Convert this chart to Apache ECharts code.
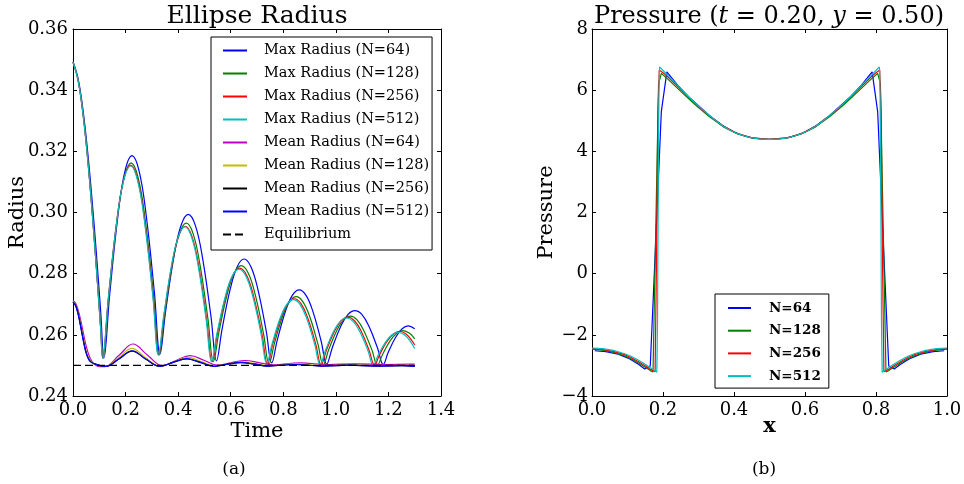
<!DOCTYPE html>
<html>
<head>
<meta charset="utf-8">
<title>Ellipse Radius / Pressure</title>
<script src="https://cdn.jsdelivr.net/npm/echarts@6.0.0/dist/echarts.min.js"></script>
<style>
  html, body { margin: 0; padding: 0; background: #fff; }
  #chart { width: 964px; height: 484px; }
</style>
</head>
<body>
<div id="chart"></div>
<script>
// ---- (a) Ellipse radius, [time, radius] ----
let maxR64 = [[0,0.3493],[0.02,0.3435],[0.04,0.3322],[0.06,0.3162],[0.08,0.2964],[0.095,0.2797],[0.105,0.2680],[0.118,0.2525],
  [0.1393,0.2729],[0.1713,0.2992],[0.1979,0.3136],[0.2245,0.3186],[0.2511,0.3137],[0.2778,0.2996],[0.3097,0.2738],[0.331,0.2537],
  [0.3525,0.2678],[0.3848,0.2860],[0.4116,0.2959],[0.4385,0.2994],[0.4654,0.2958],[0.4923,0.2854],[0.5245,0.2663],[0.546,0.2515],
  [0.567,0.2618],[0.5985,0.2751],[0.6248,0.2823],[0.651,0.2848],[0.6773,0.2822],[0.7035,0.2748],[0.735,0.2613],[0.756,0.2508],
  [0.7769,0.2582],[0.8083,0.2677],[0.8344,0.2729],[0.8605,0.2747],[0.8866,0.2729],[0.9128,0.2676],[0.9441,0.2579],[0.965,0.2504],
  [0.9865,0.2558],[1.0188,0.2628],[1.0456,0.2666],[1.0725,0.2679],[1.0994,0.2666],[1.1263,0.2627],[1.1585,0.2557],[1.180,0.2503],
  [1.199,0.2542],[1.2275,0.2592],[1.2513,0.2619],[1.275,0.2629],[1.3,0.2620]];
let maxR128 = [[0,0.3492],[0.02,0.3430],[0.04,0.3310],[0.06,0.3138],[0.08,0.2926],[0.095,0.2750],[0.105,0.2630],[0.114,0.2523],
  [0.1354,0.2721],[0.1675,0.2975],[0.1943,0.3113],[0.221,0.3162],[0.2478,0.3114],[0.2745,0.2978],[0.3066,0.2728],[0.328,0.2534],
  [0.3486,0.2667],[0.3795,0.2839],[0.4053,0.2932],[0.431,0.2965],[0.4568,0.2931],[0.4825,0.2832],[0.5134,0.2652],[0.534,0.2512],
  [0.5552,0.2609],[0.587,0.2734],[0.6135,0.2802],[0.640,0.2826],[0.6665,0.2802],[0.693,0.2732],[0.7248,0.2604],[0.746,0.2505],
  [0.7666,0.2573],[0.7975,0.2661],[0.8233,0.2708],[0.849,0.2725],[0.8748,0.2708],[0.9005,0.2660],[0.9314,0.2571],[0.952,0.2502],
  [0.9726,0.2551],[1.0035,0.2614],[1.0293,0.2649],[1.055,0.2661],[1.0808,0.2649],[1.1065,0.2613],[1.1374,0.2550],[1.158,0.2501],
  [1.1776,0.2536],[1.207,0.2581],[1.2315,0.2605],[1.256,0.2614],[1.2805,0.2605],[1.3,0.2587]];
let maxR256 = [[0,0.3492],[0.02,0.3429],[0.04,0.3308],[0.06,0.3135],[0.08,0.2922],[0.095,0.2745],[0.105,0.2623],[0.113,0.2523],
  [0.1343,0.2718],[0.1663,0.2970],[0.1929,0.3107],[0.2195,0.3155],[0.2461,0.3108],[0.2728,0.2973],[0.3047,0.2726],[0.326,0.2534],
  [0.3463,0.2664],[0.3768,0.2832],[0.4021,0.2923],[0.4275,0.2955],[0.4529,0.2921],[0.4783,0.2825],[0.5087,0.2649],[0.529,0.2512],
  [0.5501,0.2607],[0.5818,0.2728],[0.6081,0.2795],[0.6345,0.2818],[0.6609,0.2794],[0.6873,0.2726],[0.7189,0.2602],[0.740,0.2505],
  [0.7604,0.2571],[0.791,0.2656],[0.8165,0.2702],[0.842,0.2718],[0.8675,0.2702],[0.893,0.2655],[0.9236,0.2569],[0.944,0.2502],
  [0.9643,0.2550],[0.9948,0.2612],[1.0201,0.2646],[1.0455,0.2658],[1.0709,0.2646],[1.0963,0.2612],[1.1267,0.2549],[1.147,0.2501],
  [1.1662,0.2535],[1.195,0.2579],[1.219,0.2603],[1.243,0.2611],[1.267,0.2603],[1.291,0.2579],[1.3,0.2567]];
let maxR512 = [[0,0.3492],[0.02,0.3429],[0.04,0.3308],[0.06,0.3135],[0.08,0.2922],[0.095,0.2745],[0.105,0.2623],[0.113,0.2523],
  [0.1342,0.2717],[0.166,0.2968],[0.1925,0.3104],[0.219,0.3152],[0.2455,0.3105],[0.272,0.2971],[0.3038,0.2725],[0.325,0.2534],
  [0.3452,0.2663],[0.3755,0.2830],[0.4008,0.2921],[0.426,0.2953],[0.4513,0.2919],[0.4765,0.2824],[0.5068,0.2648],[0.527,0.2512],
  [0.548,0.2606],[0.5795,0.2726],[0.6058,0.2792],[0.632,0.2815],[0.6583,0.2791],[0.6845,0.2724],[0.716,0.2601],[0.737,0.2505],
  [0.7573,0.2570],[0.7878,0.2654],[0.8131,0.2699],[0.8385,0.2715],[0.8639,0.2699],[0.8893,0.2653],[0.9197,0.2568],[0.940,0.2502],
  [0.9602,0.2549],[0.9905,0.2610],[1.0158,0.2643],[1.041,0.2655],[1.0663,0.2643],[1.0915,0.2610],[1.1218,0.2549],[1.142,0.2501],
  [1.161,0.2534],[1.1895,0.2577],[1.2133,0.2600],[1.237,0.2608],[1.2608,0.2600],[1.2845,0.2577],[1.3,0.2555]];

let meanR64 = [[0,0.2712],[0.01,0.2703],[0.02,0.2680],[0.03,0.2645],[0.04,0.2603],[0.05,0.2564],[0.06,0.2535],[0.07,0.2516],[0.08,0.2505],[0.09,0.2499],[0.10,0.2496],[0.12,0.2496],
  [0.175,0.2533],[0.228,0.2570],[0.283,0.2534],[0.34,0.2499],[0.392,0.2516],[0.445,0.2532],[0.498,0.2517],[0.55,0.2501],
  [0.603,0.2509],[0.655,0.2516],[0.707,0.2509],[0.76,0.2502],[0.865,0.2508],[0.97,0.2503],[1.075,0.2505],[1.18,0.2503],[1.285,0.2504],[1.3,0.2504]];
let meanR128 = [[0,0.2710],[0.01,0.2698],[0.02,0.2670],[0.03,0.2630],[0.04,0.2585],[0.05,0.2547],[0.06,0.2523],[0.07,0.2512],[0.08,0.2506],[0.09,0.2502],[0.10,0.2499],[0.125,0.2497],
  [0.175,0.2526],[0.224,0.2556],[0.275,0.2526],[0.333,0.2497],[0.385,0.2512],[0.437,0.2526],[0.49,0.2512],[0.54,0.2498],
  [0.592,0.2505],[0.643,0.2512],[0.695,0.2505],[0.747,0.2499],[0.85,0.2505],[0.953,0.2499],[1.06,0.2502],[1.16,0.2499],[1.26,0.2500],[1.3,0.2499]];
let meanR256 = [[0,0.2708],[0.01,0.2696],[0.02,0.2667],[0.03,0.2625],[0.04,0.2580],[0.05,0.2542],[0.06,0.2520],[0.07,0.2510],[0.08,0.2506],[0.09,0.2503],[0.10,0.2500],[0.125,0.2497],
  [0.175,0.2521],[0.225,0.2547],[0.276,0.2521],[0.331,0.2497],[0.381,0.2510],[0.433,0.2521],[0.485,0.2510],[0.537,0.2497],
  [0.589,0.2504],[0.64,0.2509],[0.692,0.2504],[0.742,0.2498],[0.845,0.2503],[0.948,0.2498],[1.053,0.2501],[1.155,0.2498],[1.255,0.2499],[1.3,0.2497]];
let meanR512 = [[0,0.2708],[0.01,0.2695],[0.02,0.2665],[0.03,0.2622],[0.04,0.2577],[0.05,0.2540],[0.06,0.2519],[0.07,0.2510],[0.08,0.2506],[0.09,0.2503],[0.10,0.2500],[0.125,0.2497],
  [0.175,0.2522],[0.225,0.2548],[0.275,0.2522],[0.33,0.2497],[0.38,0.2510],[0.432,0.2522],[0.484,0.2510],[0.535,0.2497],
  [0.587,0.2504],[0.638,0.2510],[0.69,0.2504],[0.74,0.2498],[0.843,0.2503],[0.945,0.2498],[1.05,0.2501],[1.15,0.2498],[1.25,0.2499],[1.3,0.2497]];
let equilibrium = [[0,0.25],[1.3,0.25]];

// ---- (b) Pressure along y = 0.50 at t = 0.20, [x, p] ----
let press64 = [[0.0078,-2.52],[0.0391,-2.55],[0.0703,-2.62],[0.1016,-2.76],[0.1172,-2.86],[0.1328,-2.98],[0.1484,-3.12],[0.1641,-3.02],
  [0.1797,1.1],[0.1953,5.3],[0.2109,6.6],[0.2422,6.15],[0.2734,5.77],[0.3047,5.44],[0.3359,5.12],[0.3672,4.85],[0.3984,4.64],[0.4297,4.50],[0.4609,4.42],[0.4922,4.39],
  [0.5078,4.39],[0.5391,4.42],[0.5703,4.50],[0.6016,4.64],[0.6328,4.85],[0.6641,5.12],[0.6953,5.44],[0.7266,5.77],[0.7578,6.15],[0.7891,6.6],[0.8047,5.3],[0.8203,1.1],
  [0.8359,-3.02],[0.8516,-3.12],[0.8672,-2.98],[0.8828,-2.86],[0.8984,-2.76],[0.9297,-2.62],[0.9609,-2.55],[0.9922,-2.52]];
let press128 = [[0,-2.47],[0.03,-2.50],[0.06,-2.57],[0.09,-2.68],[0.11,-2.78],[0.13,-2.91],[0.15,-3.06],[0.1641,-3.17],[0.1719,-3.21],
  [0.1797,1.5],[0.1875,6.2],[0.1953,6.55],[0.21,6.40],[0.25,5.96],[0.29,5.53],[0.33,5.14],[0.37,4.80],[0.41,4.57],[0.45,4.44],[0.5,4.39],
  [0.55,4.44],[0.59,4.57],[0.63,4.80],[0.67,5.14],[0.71,5.53],[0.75,5.96],[0.79,6.40],[0.8047,6.55],[0.8125,6.2],[0.8203,1.5],
  [0.8281,-3.21],[0.8359,-3.17],[0.85,-3.06],[0.87,-2.91],[0.89,-2.78],[0.91,-2.68],[0.94,-2.57],[0.97,-2.50],[1,-2.47]];
let press256 = [[0,-2.45],[0.03,-2.48],[0.06,-2.54],[0.09,-2.64],[0.11,-2.74],[0.13,-2.87],[0.15,-3.01],[0.165,-3.13],[0.1777,-3.21],
  [0.1816,0.3],[0.1855,5.2],[0.1895,6.66],[0.21,6.48],[0.25,6.02],[0.29,5.57],[0.33,5.17],[0.37,4.82],[0.41,4.58],[0.45,4.44],[0.5,4.39],
  [0.55,4.44],[0.59,4.58],[0.63,4.82],[0.67,5.17],[0.71,5.57],[0.75,6.02],[0.79,6.48],[0.8105,6.66],[0.8145,5.2],[0.8184,0.3],
  [0.8223,-3.21],[0.835,-3.13],[0.85,-3.01],[0.87,-2.87],[0.89,-2.74],[0.91,-2.64],[0.94,-2.54],[0.97,-2.48],[1,-2.45]];
let press512 = [[0,-2.43],[0.03,-2.45],[0.06,-2.51],[0.09,-2.61],[0.11,-2.70],[0.13,-2.82],[0.15,-2.96],[0.165,-3.08],[0.175,-3.16],[0.1826,-3.22],
  [0.1846,-1.5],[0.1865,2.5],[0.1885,5.8],[0.1904,6.76],[0.21,6.53],[0.23,6.29],[0.25,6.05],[0.27,5.81],[0.29,5.59],[0.31,5.38],[0.33,5.18],[0.35,4.99],
  [0.37,4.82],[0.39,4.68],[0.41,4.58],[0.43,4.50],[0.45,4.44],[0.47,4.41],[0.49,4.39],[0.5,4.39],[0.51,4.39],[0.53,4.41],[0.55,4.44],[0.57,4.50],
  [0.59,4.58],[0.61,4.68],[0.63,4.82],[0.65,4.99],[0.67,5.18],[0.69,5.38],[0.71,5.59],[0.73,5.81],[0.75,6.05],[0.77,6.29],[0.79,6.53],[0.8096,6.76],
  [0.8115,5.8],[0.8135,2.5],[0.8154,-1.5],[0.8174,-3.22],[0.825,-3.16],[0.835,-3.08],[0.85,-2.96],[0.87,-2.82],[0.89,-2.70],[0.91,-2.61],[0.94,-2.51],[0.97,-2.45],[1,-2.43]];

let radiusNames = ['Max Radius (N=64)','Max Radius (N=128)','Max Radius (N=256)','Max Radius (N=512)',
  'Mean Radius (N=64)','Mean Radius (N=128)','Mean Radius (N=256)','Mean Radius (N=512)','Equilibrium'];
let pressNames = ['N=64','N=128','N=256','N=512'];

let serif = 'DejaVu Serif';
let black = '#000';

function frameAxis(extra){
    return Object.assign({
        type:'value',
        axisLine:{show:true,onZero:false,lineStyle:{color:black,width:1}},
        axisTick:{show:true,inside:true,length:4,lineStyle:{color:black,width:1}},
        splitLine:{show:false},
        axisLabel:{show:false},
        nameMoveOverlap:false
    }, extra);
}
function tickLabel(margin, fmt){
    return {show:true,margin:margin,color:black,fontFamily:serif,fontSize:18,formatter:fmt};
}
function nameStyle(bold){
    return {fontFamily:serif,fontSize:21,color:black,fontWeight:bold?'bold':'normal'};
}
function line(name, data, color, xi, yi, smooth, dash){
    return {
        name:name, type:'line', data:data, xAxisIndex:xi, yAxisIndex:yi,
        symbol:'none', smooth:smooth, silent:true, animation:false,
        lineStyle:{color:color,width:1.2,type:dash || 'solid'},
        itemStyle:{color:color}
    };
}
let minus = v => (v < 0 ? '\u2212' : '') + Math.abs(v).toFixed(0);

let chart = echarts.init(document.getElementById('chart'));
chart.setOption({
    backgroundColor:'#fff',
    animation:false,
    title:[
        {text:'Ellipse Radius',left:257,top:4,textAlign:'center',padding:0,
         textStyle:{fontFamily:serif,fontSize:25,fontWeight:'normal',color:black}},
        {text:'{n|Pressure (}{i|t}{n| = 0.20, }{i|y}{n| = 0.50)}',left:769,top:5,textAlign:'center',padding:0,
         textStyle:{fontFamily:serif,fontSize:24,fontWeight:'normal',color:black,
            rich:{n:{fontFamily:serif,fontSize:24,color:black},i:{fontFamily:serif,fontSize:24,fontStyle:'italic',color:black}}}},
        {text:'(a)',left:234,top:461,textAlign:'center',padding:0,
         textStyle:{fontFamily:serif,fontSize:17,fontWeight:'normal',color:black}},
        {text:'(b)',left:764,top:461,textAlign:'center',padding:0,
         textStyle:{fontFamily:serif,fontSize:17,fontWeight:'normal',color:black}}
    ],
    legend:[
        {data:radiusNames,orient:'vertical',left:211,top:37,padding:[6,3,8,11],
         itemWidth:24,itemHeight:14,itemGap:8,selectedMode:false,
         itemStyle:{opacity:0},
         backgroundColor:'#fff',borderColor:black,borderWidth:1,borderRadius:0,
         textStyle:{fontFamily:serif,fontSize:14.5,color:black,lineHeight:14,padding:[0,0,0,12]}},
        {data:pressNames,orient:'vertical',left:715,top:294,padding:[7,8,5,12],
         itemWidth:23,itemHeight:14,itemGap:8.7,selectedMode:false,
         itemStyle:{opacity:0},
         backgroundColor:'#fff',borderColor:black,borderWidth:1,borderRadius:0,
         textStyle:{fontFamily:serif,fontSize:13.5,fontWeight:'bold',color:black,lineHeight:14,padding:[0,0,0,13]}}
    ],
    grid:[
        {left:73,top:29,width:368,height:367,containLabel:false,outerBoundsMode:'none'},
        {left:592,top:29,width:355,height:367,containLabel:false,outerBoundsMode:'none'}
    ],
    xAxis:[
        frameAxis({gridIndex:0,position:'bottom',min:0,max:1.4,interval:0.2,
            axisLabel:tickLabel(5,v=>v.toFixed(1)),
            name:'Time',nameLocation:'middle',nameGap:25,nameTextStyle:nameStyle(false)}),
        frameAxis({gridIndex:0,position:'top',min:0,max:1.4,interval:0.2}),
        frameAxis({gridIndex:1,position:'bottom',min:0,max:1,interval:0.2,
            axisLabel:tickLabel(5,v=>v.toFixed(1)),
            name:'x',nameLocation:'middle',nameGap:20,nameTextStyle:nameStyle(true)}),
        frameAxis({gridIndex:1,position:'top',min:0,max:1,interval:0.2})
    ],
    yAxis:[
        frameAxis({gridIndex:0,position:'left',min:0.24,max:0.36,interval:0.02,
            axisLabel:tickLabel(5,v=>v.toFixed(2)),
            name:'Radius',nameLocation:'middle',nameGap:45,nameTextStyle:nameStyle(false)}),
        frameAxis({gridIndex:0,position:'right',min:0.24,max:0.36,interval:0.02}),
        frameAxis({gridIndex:1,position:'left',min:-4,max:8,interval:2,
            axisLabel:tickLabel(4,minus),
            name:'Pressure',nameLocation:'middle',nameGap:35,nameTextStyle:nameStyle(false)}),
        frameAxis({gridIndex:1,position:'right',min:-4,max:8,interval:2})
    ],
    series:[
        line(radiusNames[0],maxR64,'#0000ff',0,0,0.4),
        line(radiusNames[1],maxR128,'#008000',0,0,0.4),
        line(radiusNames[2],maxR256,'#ff0000',0,0,0.4),
        line(radiusNames[3],maxR512,'#00bfbf',0,0,0.4),
        line(radiusNames[4],meanR64,'#bf00bf',0,0,0.4),
        line(radiusNames[5],meanR128,'#bfbf00',0,0,0.4),
        line(radiusNames[6],meanR256,'#000000',0,0,0.4),
        line(radiusNames[7],meanR512,'#0000ff',0,0,0.4),
        line(radiusNames[8],equilibrium,'#000000',0,0,false,[8,4]),
        line(pressNames[0],press64,'#0000ff',2,2,false),
        line(pressNames[1],press128,'#008000',2,2,false),
        line(pressNames[2],press256,'#ff0000',2,2,false),
        line(pressNames[3],press512,'#00bfbf',2,2,false)
    ]
});
</script>
</body>
</html>
